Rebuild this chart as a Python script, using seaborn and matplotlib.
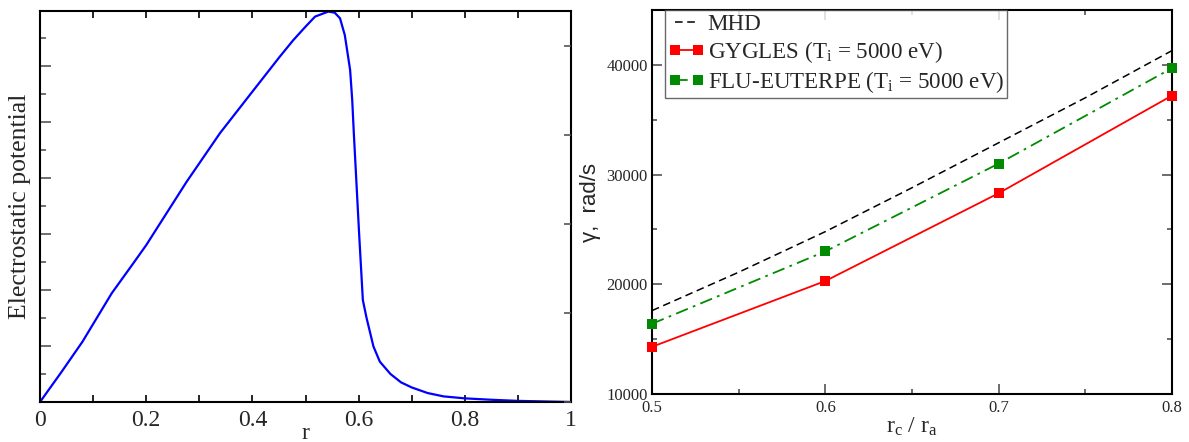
import numpy as np
import pandas as pd
import matplotlib
matplotlib.use("Agg")
import matplotlib.pyplot as plt
import seaborn as sns
from matplotlib.ticker import MultipleLocator, NullFormatter, FuncFormatter

# ---------------- data ----------------
r_vals = [0, 0.04, 0.08, 0.135, 0.176, 0.20, 0.276, 0.339, 0.395, 0.452, 0.477,
          0.50, 0.518, 0.543, 0.555, 0.565, 0.574, 0.584, 0.588, 0.591, 0.596,
          0.601, 0.608, 0.615, 0.628, 0.640, 0.66, 0.68, 0.70, 0.73, 0.76,
          0.80, 0.85, 0.90, 0.95, 1.0]
phi_vals = [0, 0.53, 1.077, 1.94, 2.48, 2.80, 3.93, 4.80, 5.48, 6.17, 6.46,
            6.70, 6.88, 6.97, 6.95, 6.85, 6.55, 5.93, 5.39, 4.8, 3.9,
            3.0, 1.82, 1.50, 0.99, 0.72, 0.50, 0.35, 0.26, 0.16, 0.10,
            0.065, 0.04, 0.02, 0.01, 0.0]

rc_mhd = [0.5, 0.55, 0.6, 0.65, 0.7, 0.75, 0.8]
gamma_mhd = [17600, 21100, 24800, 28800, 32900, 37000, 41300]

rc_pts = [0.5, 0.6, 0.7, 0.8]
gamma_gygles = [14300, 20300, 28300, 37200]
gamma_flu = [16400, 23000, 31000, 39700]

lab_mhd = "MHD"
lab_gygles = r"GYGLES (T$_{\mathregular{i}}$ = 5000 eV)"
lab_flu = r"FLU-EUTERPE (T$_{\mathregular{i}}$ = 5000 eV)"

# ---------------- style ----------------
sns.set_theme(style="ticks")
plt.rcParams["font.family"] = ["Liberation Serif", "DejaVu Serif"]
plt.rcParams["mathtext.fontset"] = "custom"
plt.rcParams["mathtext.rm"] = "Liberation Serif"
plt.rcParams["mathtext.it"] = "Liberation Serif:italic"
plt.rcParams["axes.linewidth"] = 1.5
plt.rcParams["axes.edgecolor"] = "black"

fig = plt.figure(figsize=(11.89, 4.42), dpi=100)
ax1 = fig.add_axes([40/1189, 1-402/442, (571-40)/1189, (402-11)/442])
ax2 = fig.add_axes([652/1189, 1-394/442, (1172-652)/1189, (394-10)/442])

# ---------------- left panel ----------------
df1 = pd.DataFrame({"r": r_vals, "phi": phi_vals})
sns.lineplot(data=df1, x="r", y="phi", ax=ax1, color="#0000ff", lw=1.6,
             sort=False, estimator=None)
ax1.set_xlim(0, 1)
ax1.set_ylim(0, 6.98)
ax1.xaxis.set_major_locator(MultipleLocator(0.2))
ax1.xaxis.set_minor_locator(MultipleLocator(0.1))
ax1.yaxis.set_major_locator(MultipleLocator(1))
ax1.yaxis.set_minor_locator(MultipleLocator(0.5))
ax1.yaxis.set_major_formatter(NullFormatter())
ax1.xaxis.set_major_formatter(FuncFormatter(
    lambda v, p: "0" if abs(v) < 1e-9 else ("1" if abs(v-1) < 1e-9 else f"{v:.1f}")))
ax1.tick_params(axis="x", which="both", direction="in", top=True, bottom=True,
                length=5, width=1.2, labelsize=17, pad=6, color="black")
ax1.tick_params(axis="y", which="major", direction="in", left=True, right=False,
                length=8, width=1.2, color="#555555")
ax1.tick_params(axis="y", which="minor", direction="in", left=True, right=False,
                length=4, width=1.2, color="#555555")
ax1.set_xlabel("r", fontsize=17, labelpad=-6)
ax1.set_ylabel("Electrostatic potential", fontsize=18.5, labelpad=3)
tw = ax1.twinx()
tw.set_ylim(0, 4.39)
tw.yaxis.set_major_locator(MultipleLocator(1))
tw.yaxis.set_major_formatter(NullFormatter())
tw.tick_params(axis="y", direction="in", length=5, width=1.2, color="#555555")
for s in tw.spines.values():
    s.set_visible(False)

# ---------------- right panel ----------------
df_mhd = pd.DataFrame({"rc": rc_mhd, "gamma": gamma_mhd})
df_gy = pd.DataFrame({"rc": rc_pts, "gamma": gamma_gygles})
df_flu = pd.DataFrame({"rc": rc_pts, "gamma": gamma_flu})

sns.lineplot(data=df_mhd, x="rc", y="gamma", ax=ax2, color="black", lw=1.1,
             dashes=False, linestyle=(0, (5, 3)), label=lab_mhd, estimator=None)
sns.lineplot(data=df_gy, x="rc", y="gamma", ax=ax2, color="#ff0000", lw=1.3,
             marker="s", markersize=7, markeredgewidth=0, label=lab_gygles,
             estimator=None, clip_on=False, zorder=5)
sns.lineplot(data=df_flu, x="rc", y="gamma", ax=ax2, color="#008b00", lw=1.3,
             linestyle=(0, (7, 3, 1.5, 3)), marker="s", markersize=7,
             markeredgewidth=0, label=lab_flu, estimator=None, clip_on=False,
             zorder=5)

ax2.set_xlim(0.5, 0.8)
ax2.set_ylim(10000, 45000)
ax2.xaxis.set_major_locator(MultipleLocator(0.1))
ax2.xaxis.set_minor_locator(MultipleLocator(0.05))
ax2.set_yticks([10000, 20000, 30000, 40000])
ax2.set_yticks(np.arange(15000, 45001, 10000), minor=True)
ax2.xaxis.set_major_formatter(FuncFormatter(lambda v, p: f"{v:.1f}"))
ax2.yaxis.set_major_formatter(FuncFormatter(lambda v, p: f"{int(v)}"))
ax2.tick_params(which="major", direction="in", top=True, right=True, length=7,
                width=1.1, labelsize=12, pad=3, color="#444444")
ax2.tick_params(axis="x", which="major", pad=4)
ax2.tick_params(which="minor", direction="in", top=True, right=True, length=3.5,
                width=1.1, color="#444444")
ax2.set_xlabel(r"r$_{\mathregular{c}}$ / r$_{\mathregular{a}}$", fontsize=17, labelpad=0)
ax2.set_ylabel("γ,  rad/s", fontsize=16, family=["Liberation Sans", "DejaVu Sans"],
               labelpad=4)

leg = ax2.legend(loc="upper left", bbox_to_anchor=(0.025, 1.0), borderaxespad=0,
                 fontsize=16.6, numpoints=2, handlelength=1.6, handletextpad=0.1,
                 labelspacing=0.18, borderpad=0.15, fancybox=False, frameon=True,
                 edgecolor="#444444")
leg.get_frame().set_linewidth(1.0)
leg.set_zorder(10)

fig.savefig("out.png", dpi=100)
